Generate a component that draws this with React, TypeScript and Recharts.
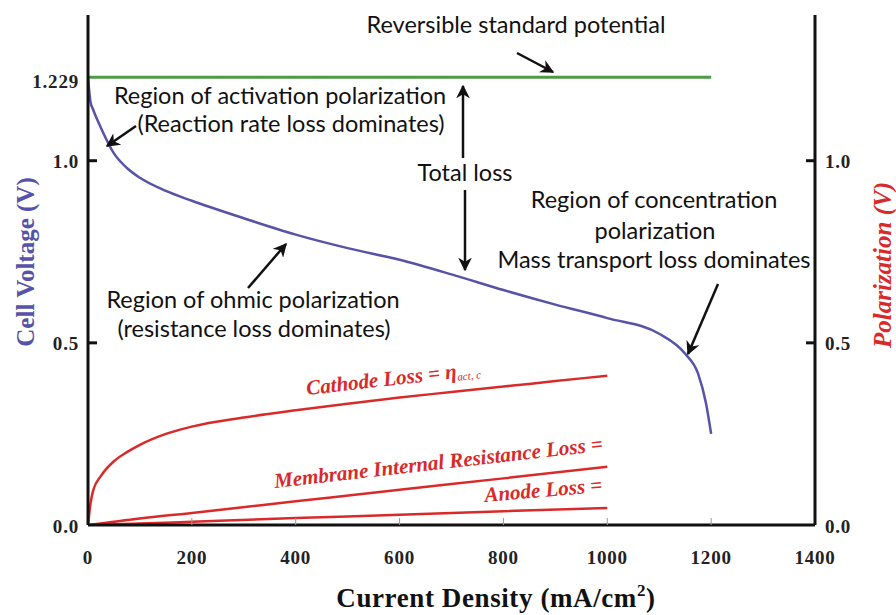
import { LineChart, Line, XAxis, YAxis } from "recharts";

// cell voltage (V) vs current density (mA/cm2)
const currentDensity = [0, 5, 10, 25, 50, 75, 100, 150, 200, 300, 400, 500, 600, 700, 800, 900, 1000, 1100, 1150, 1175, 1190, 1200];
const cellVoltage = [1.229, 1.16, 1.14, 1.09, 1.02, 0.98, 0.953, 0.917, 0.89, 0.842, 0.797, 0.76, 0.728, 0.688, 0.645, 0.605, 0.568, 0.525, 0.47, 0.415, 0.335, 0.25];

const potentialDensity = [0, 1200];
const reversiblePotential = [1.229, 1.229];

// polarization losses (V)
const cathodeDensity = [0, 5, 10, 25, 50, 75, 100, 150, 200, 300, 400, 500, 600, 700, 800, 900, 1000];
const cathodeLoss = [0, 0.06, 0.095, 0.135, 0.175, 0.2, 0.22, 0.25, 0.27, 0.295, 0.315, 0.333, 0.35, 0.365, 0.38, 0.395, 0.41];
const ohmicDensity = [0, 100, 200, 400, 600, 800, 1000];
const membraneLoss = [0, 0.018, 0.033, 0.065, 0.097, 0.128, 0.16];
const anodeLoss = [0, 0.004, 0.009, 0.019, 0.028, 0.038, 0.047];

const xTicks = [0, 200, 400, 600, 800, 1000, 1200, 1400];
const voltageTicks = [0, 0.5, 1.0, 1.229];
const voltageTickLabels = ["0.0", "0.5", "1.0", "1.229"];
const polarizationTicks = [0, 0.5, 1.0];
const polarizationTickLabels = ["0.0", "0.5", "1.0"];

const toPoints = (xs: number[], ys: number[]) => xs.map((x, i) => ({ x, y: ys[i] }));

const SERIF = '"Liberation Serif", "DejaVu Serif", serif';
const SANS = 'Lato, "Open Sans", sans-serif';
const RED = "#d92a2a";
const BLUE = "#5653a8";

const tickText = {
  fontFamily: SERIF,
  fontWeight: "bold" as const,
  fontSize: 19,
  letterSpacing: 0.8,
  fill: "#222",
};

function LeftTick({ x, y, payload }: any) {
  const i = voltageTicks.indexOf(payload.value);
  const mark = payload.value === 0.5 || payload.value === 1;
  return (
    <g>
      {mark && <line x1={x + 9} x2={x + 18} y1={y} y2={y} stroke="#111" strokeWidth={3} />}
      <text x={x} y={y + (payload.value > 1.1 ? 4 : 1)} textAnchor="end" dominantBaseline="central" {...tickText}>
        {voltageTickLabels[i]}
      </text>
    </g>
  );
}

function RightTick({ x, y, payload }: any) {
  const i = polarizationTicks.indexOf(payload.value);
  const mark = payload.value > 0;
  return (
    <g>
      {mark && <line x1={x - 10} x2={x - 19} y1={y} y2={y} stroke="#111" strokeWidth={3} />}
      <text x={x} y={y + 1} textAnchor="start" dominantBaseline="central" {...tickText}>
        {polarizationTickLabels[i]}
      </text>
    </g>
  );
}

function BottomTick({ x, y, payload }: any) {
  const mark = payload.value > 0 && payload.value < 1400;
  return (
    <g>
      {mark && <line x1={x} x2={x} y1={y - 32} y2={y - 39} stroke="#999" strokeWidth={1} />}
      <text x={x} y={y} textAnchor="middle" dominantBaseline="central" {...tickText}>
        {payload.value}
      </text>
    </g>
  );
}

function Arrow({ x1, y1, x2, y2 }: { x1: number; y1: number; x2: number; y2: number }) {
  return <line x1={x1} y1={y1} x2={x2} y2={y2} stroke="#111" strokeWidth={2.5} markerEnd="url(#head)" />;
}

export default function App() {
  return (
    <div style={{ position: "absolute", left: 0, top: 0, width: 896, height: 615, background: "#fff" }}>
      <LineChart width={896} height={615} margin={{ top: 15, right: 0, bottom: 0, left: 0 }}>
        <XAxis type="number" dataKey="x" domain={[0, 1400]} ticks={xTicks} height={90}
          axisLine={{ stroke: "#111", strokeWidth: 3 }} tickLine={false} tickSize={0} tickMargin={32}
          tick={<BottomTick />} allowDataOverflow />
        <YAxis yAxisId="left" type="number" domain={[0, 1.4]} ticks={voltageTicks} width={88}
          axisLine={{ stroke: "#111", strokeWidth: 3 }} tickLine={false} tickSize={0} tickMargin={9}
          tick={<LeftTick />} allowDataOverflow />
        <YAxis yAxisId="right" orientation="right" type="number" domain={[0, 1.4]} ticks={polarizationTicks} width={81}
          axisLine={{ stroke: "#111", strokeWidth: 3 }} tickLine={false} tickSize={0} tickMargin={10}
          tick={<RightTick />} allowDataOverflow />
        <Line yAxisId="left" data={toPoints(potentialDensity, reversiblePotential)} dataKey="y" type="linear"
          stroke="#4b9a46" strokeWidth={3} dot={false} isAnimationActive={false} />
        <Line yAxisId="left" data={toPoints(currentDensity, cellVoltage)} dataKey="y" type="monotone"
          stroke={BLUE} strokeWidth={2.5} dot={false} isAnimationActive={false} />
        <Line yAxisId="right" data={toPoints(cathodeDensity, cathodeLoss)} dataKey="y" type="monotone"
          stroke={RED} strokeWidth={2.5} dot={false} isAnimationActive={false} />
        <Line yAxisId="right" data={toPoints(ohmicDensity, membraneLoss)} dataKey="y" type="monotone"
          stroke={RED} strokeWidth={2.5} dot={false} isAnimationActive={false} />
        <Line yAxisId="right" data={toPoints(ohmicDensity, anodeLoss)} dataKey="y" type="monotone"
          stroke={RED} strokeWidth={2.5} dot={false} isAnimationActive={false} />
      </LineChart>

      <svg width={896} height={615} style={{ position: "absolute", left: 0, top: 0, pointerEvents: "none" }}>
        <defs>
          <marker id="head" viewBox="0 0 10 10" refX="9" refY="5" markerWidth="5.5" markerHeight="5.5" orient="auto">
            <path d="M0,0 L10,5 L0,10 L3,5 z" fill="#111" />
          </marker>
        </defs>

        {/* axis titles */}
        <text x={496} y={607} textAnchor="middle" fontFamily={SERIF} fontWeight="bold" fontSize={27} letterSpacing={0.6} fill="#111">
          Current Density (mA/cm<tspan dy={-11} fontSize={17}>2</tspan><tspan dy={11}>)</tspan>
        </text>
        <text transform="translate(25,262) rotate(-90)" textAnchor="middle" dominantBaseline="central"
          fontFamily={SERIF} fontWeight="bold" fontSize={25} fill={BLUE}>
          Cell Voltage (V)
        </text>
        <text transform="translate(882,265) rotate(-90)" textAnchor="middle" dominantBaseline="central"
          fontFamily={SERIF} fontWeight="bold" fontStyle="italic" fontSize={25} fill={RED}>
          Polarization (V)
        </text>

        {/* annotations */}
        <g fontFamily={SANS} fontSize={23.5} fill="#111" textAnchor="middle">
          <text x={516} y={33}>Reversible standard potential</text>
          <text x={280} y={104}>Region of activation polarization</text>
          <text x={291} y={132}>(Reaction rate loss dominates)</text>
          <text x={465} y={181}>Total loss</text>
          <text x={654} y={208}>Region of concentration</text>
          <text x={655} y={239}>polarization</text>
          <text x={654} y={268}>Mass transport loss dominates</text>
          <text x={253} y={308}>Region of ohmic polarization</text>
          <text x={254} y={337}>(resistance loss dominates)</text>
        </g>
        <Arrow x1={517} y1={53} x2={553} y2={72} />
        <Arrow x1={136} y1={126} x2={107} y2={146} />
        <Arrow x1={463} y1={158} x2={463} y2={86} />
        <Arrow x1={465} y1={190} x2={465} y2={270} />
        <Arrow x1={248} y1={288} x2={286} y2={244} />
        <Arrow x1={718} y1={284} x2={688} y2={354} />

        <g fontFamily={SERIF} fontWeight="bold" fontStyle="italic" fontSize={21} fill={RED}>
          <text x={307} y={395} transform="rotate(-6.5 307 395)">
            Cathode Loss = η<tspan fontSize={11} fontWeight="normal" dy={3}>act, c</tspan>
          </text>
          <text x={275} y={488} transform="rotate(-6.5 275 488)">Membrane Internal Resistance Loss =</text>
          <text x={485} y={502} transform="rotate(-5 485 502)">Anode Loss =</text>
        </g>
      </svg>
    </div>
  );
}
